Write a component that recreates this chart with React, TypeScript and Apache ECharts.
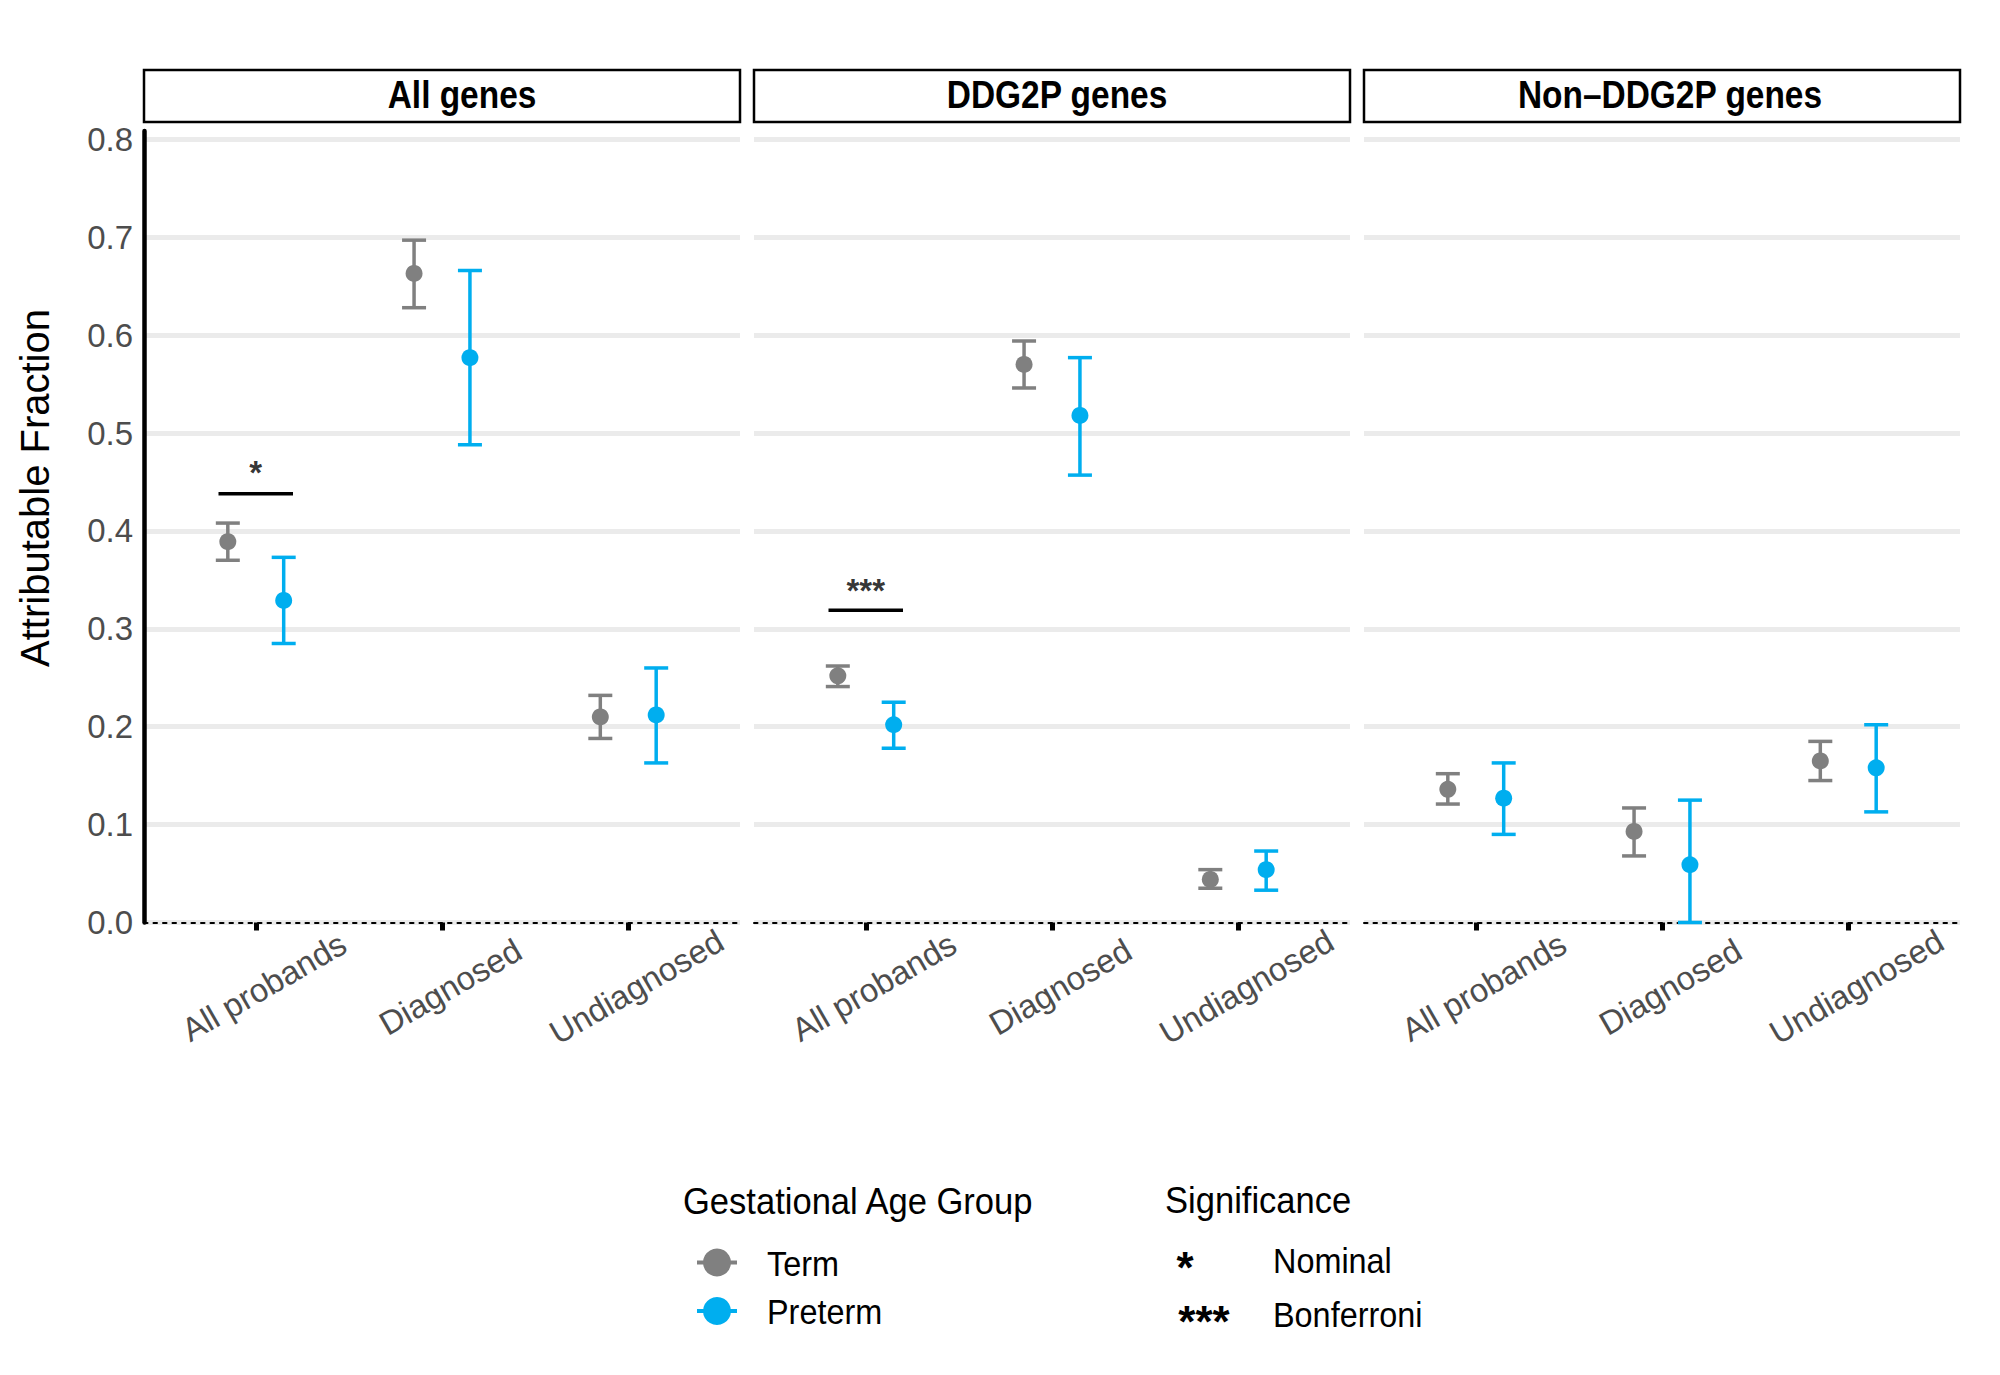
import React, { useEffect, useRef } from "react";
import * as echarts from "echarts";

// ---------- data ----------
const CATEGORIES = ["All probands", "Diagnosed", "Undiagnosed"];
const PANELS = ["All genes", "DDG2P genes", "Non\u2013DDG2P genes"];
const GROUPS = ["Term", "Preterm"];
const GROUP_COLORS = ["#808080", "#00AEEF"];
const GROUP_DODGE = [-0.15, 0.15];

// per panel, per category
const termMean = [
  [0.389, 0.663, 0.210],
  [0.252, 0.570, 0.044],
  [0.136, 0.093, 0.165],
];
const termLow = [
  [0.370, 0.628, 0.188],
  [0.241, 0.546, 0.035],
  [0.121, 0.068, 0.145],
];
const termHigh = [
  [0.408, 0.697, 0.232],
  [0.262, 0.594, 0.054],
  [0.152, 0.117, 0.185],
];
const pretermMean = [
  [0.329, 0.577, 0.212],
  [0.202, 0.518, 0.054],
  [0.127, 0.059, 0.158],
];
const pretermLow = [
  [0.285, 0.488, 0.163],
  [0.178, 0.457, 0.033],
  [0.090, 0.000, 0.113],
];
const pretermHigh = [
  [0.373, 0.666, 0.260],
  [0.225, 0.577, 0.073],
  [0.163, 0.125, 0.202],
];

const Y_MIN = 0;
const Y_MAX = 0.8085;
const Y_INTERVAL = 0.1;

// significance annotations
const sigPanel = [0, 1];
const sigCategory = [0, 0];
const sigBarY = [0.438, 0.319];
const sigTextY = [0.464, 0.344];
const sigText = ["*", "***"];
const SIG_HALF = 0.2;

const legendSigSymbols = ["*", "***"];
const legendSigLabels = ["Nominal", "Bonferroni"];

// ---------- layout ----------
const FONT = "'Liberation Sans', Arial, Helvetica, sans-serif";
const PANEL_LEFT0 = 144;
const PANEL_STEP = 610;
const PANEL_W = 596;
const PANEL_TOP = 131;
const PANEL_H = 791.5;
const STRIP_TOP = 70;
const STRIP_H = 52;
const STRIP_TEXT_SHIFT = [20, 5, 8];

function buildOption() {
  const grids: any[] = [];
  const xAxes: any[] = [];
  const yAxes: any[] = [];
  const series: any[] = [];
  const graphics: any[] = [];

  const means = [termMean, pretermMean];
  const lows = [termLow, pretermLow];
  const highs = [termHigh, pretermHigh];

  PANELS.forEach((name, p) => {
    const left = PANEL_LEFT0 + p * PANEL_STEP;
    grids.push({ left, top: PANEL_TOP, width: PANEL_W, height: PANEL_H, containLabel: false });
    xAxes.push({
      type: "value",
      gridIndex: p,
      min: 0.4,
      max: 3.6,
      z: 3,
      axisLine: {
        show: true,
        onZero: true,
        lineStyle: { color: "#000", width: 2, type: [3.5, 6] },
      },
      axisTick: {
        show: true,
        customValues: [1, 2, 3],
        length: 8,
        lineStyle: { color: "#000", width: 5 },
      },
      splitLine: { show: false },
      axisLabel: {
        show: true,
        customValues: [1, 2, 3],
        formatter: (v: number) => CATEGORIES[Math.round(v) - 1] ?? "",
        rotate: 30,
        align: "center",
        verticalAlign: "top",
        margin: 50,
        fontSize: 33,
        color: "#4d4d4d",
        fontFamily: FONT,
      },
    });
    yAxes.push({
      type: "value",
      gridIndex: p,
      min: Y_MIN,
      max: Y_MAX,
      interval: Y_INTERVAL,
      axisLine: { show: p === 0, onZero: false, lineStyle: { color: "#000", width: 4.5 } },
      axisTick: { show: false },
      splitLine: {
        show: true,
        showMaxLine: false,
        lineStyle: { color: "#ebebeb", width: 5 },
      },
      axisLabel: {
        show: p === 0,
        showMaxLabel: false,
        formatter: (v: number) => v.toFixed(1),
        fontSize: 33,
        color: "#4d4d4d",
        margin: 11,
        fontFamily: FONT,
      },
    });

    // error bars + points
    GROUPS.forEach((g, gi) => {
      const color = GROUP_COLORS[gi];
      const barData = CATEGORIES.map((_, c) => [
        c + 1 + GROUP_DODGE[gi],
        lows[gi][p][c],
        highs[gi][p][c],
      ]);
      series.push({
        type: "custom",
        name: g,
        xAxisIndex: p,
        yAxisIndex: p,
        z: 4,
        data: barData,
        encode: { x: 0, y: [1, 2] },
        renderItem: (params: any, api: any) => {
          const x = api.value(0);
          const lo = api.coord([x, api.value(1)]);
          const hi = api.coord([x, api.value(2)]);
          const hw = 12;
          const st = { stroke: color, lineWidth: 3.5 };
          return {
            type: "group",
            children: [
              { type: "line", shape: { x1: lo[0], y1: lo[1], x2: hi[0], y2: hi[1] }, style: st },
              { type: "line", shape: { x1: hi[0] - hw, y1: hi[1], x2: hi[0] + hw, y2: hi[1] }, style: st },
              { type: "line", shape: { x1: lo[0] - hw, y1: lo[1], x2: lo[0] + hw, y2: lo[1] }, style: st },
            ],
          };
        },
      });
      series.push({
        type: "scatter",
        name: g,
        xAxisIndex: p,
        yAxisIndex: p,
        z: 5,
        symbol: "circle",
        symbolSize: 17,
        itemStyle: { color, opacity: 1 },
        data: CATEGORIES.map((_, c) => [c + 1 + GROUP_DODGE[gi], means[gi][p][c]]),
      });
    });

    // strip
    graphics.push({
      type: "rect",
      shape: { x: left, y: STRIP_TOP, width: PANEL_W, height: STRIP_H },
      style: { fill: "#fff", stroke: "#000", lineWidth: 2.5 },
    });
    graphics.push({
      type: "text",
      x: left + PANEL_W / 2 + STRIP_TEXT_SHIFT[p],
      y: STRIP_TOP + STRIP_H / 2 - 1,
      scaleX: 0.88,
      style: {
        text: name,
        x: 0,
        y: 0,
        fontSize: 38,
        fontWeight: "bold",
        fontFamily: FONT,
        fill: "#000",
        textAlign: "center",
        textVerticalAlign: "middle",
      },
    });
  });

  // significance bars and labels
  sigPanel.forEach((p, i) => {
    const cx = sigCategory[i] + 1;
    series.push({
      type: "line",
      xAxisIndex: p,
      yAxisIndex: p,
      z: 4,
      symbol: "none",
      lineStyle: { color: "#000", width: 3.5 },
      data: [
        [cx - SIG_HALF, sigBarY[i]],
        [cx + SIG_HALF, sigBarY[i]],
      ],
    });
    series.push({
      type: "scatter",
      xAxisIndex: p,
      yAxisIndex: p,
      z: 4,
      symbol: "circle",
      symbolSize: 1,
      itemStyle: { color: "rgba(0,0,0,0)" },
      label: {
        show: true,
        position: "inside",
        formatter: () => sigText[i],
        fontSize: 33,
        fontWeight: "bold",
        color: "#000",
        fontFamily: FONT,
        offset: [0, 4.5],
      },
      data: [[cx, sigTextY[i]]],
    });
  });

  // y axis title
  graphics.push({
    type: "text",
    x: 35,
    y: 488,
    rotation: Math.PI / 2,
    style: {
      text: "Attributable Fraction",
      x: 0,
      y: 0,
      fontSize: 40,
      fontFamily: FONT,
      fill: "#000",
      textAlign: "center",
      textVerticalAlign: "middle",
    },
  });

  // legend
  const legText = (text: string, x: number, y: number, sx: number) => ({
    type: "text",
    x,
    y,
    scaleX: sx,
    style: {
      text,
      x: 0,
      y: 0,
      fontSize: 36,
      fontFamily: FONT,
      fill: "#000",
      textAlign: "left",
      textVerticalAlign: "middle",
    },
  });
  graphics.push(legText("Gestational Age Group", 683, 1201, 0.96));
  const legRowY = [1262.5, 1311];
  GROUPS.forEach((g, gi) => {
    const cy = legRowY[gi];
    graphics.push({
      type: "line",
      shape: { x1: 697, y1: cy, x2: 737, y2: cy },
      style: { stroke: GROUP_COLORS[gi], lineWidth: 4 },
    });
    graphics.push({
      type: "circle",
      shape: { cx: 717, cy, r: 14 },
      style: { fill: GROUP_COLORS[gi] },
    });
    graphics.push(legText(g, 767, cy + 0.5, 0.9));
  });

  graphics.push(legText("Significance", 1165, 1200, 0.96));
  const sigRowY = [1261, 1315];
  const sigRowX = [1185, 1204];
  legendSigSymbols.forEach((s, i) => {
    graphics.push({
      type: "text",
      x: sigRowX[i],
      y: sigRowY[i] + 6,
      style: {
        text: s,
        x: 0,
        y: 0,
        fontSize: 44,
        fontWeight: "bold",
        fontFamily: FONT,
        fill: "#000",
        textAlign: "center",
        textVerticalAlign: "middle",
      },
    });
    graphics.push(legText(legendSigLabels[i], 1273, sigRowY[i] - 1, 0.9));
  });

  return {
    animation: false,
    backgroundColor: "#ffffff",
    textStyle: { fontFamily: FONT },
    grid: grids,
    xAxis: xAxes,
    yAxis: yAxes,
    series,
    graphic: { elements: graphics },
  };
}

export default function App() {
  const ref = useRef<HTMLDivElement>(null);
  useEffect(() => {
    if (!ref.current) return;
    const chart = echarts.init(ref.current, undefined, { renderer: "svg" });
    chart.setOption(buildOption() as any);
    return () => chart.dispose();
  }, []);
  return (
    <div
      ref={ref}
      style={{ position: "absolute", left: 0, top: 0, width: 2000, height: 1375, background: "#fff" }}
    />
  );
}
